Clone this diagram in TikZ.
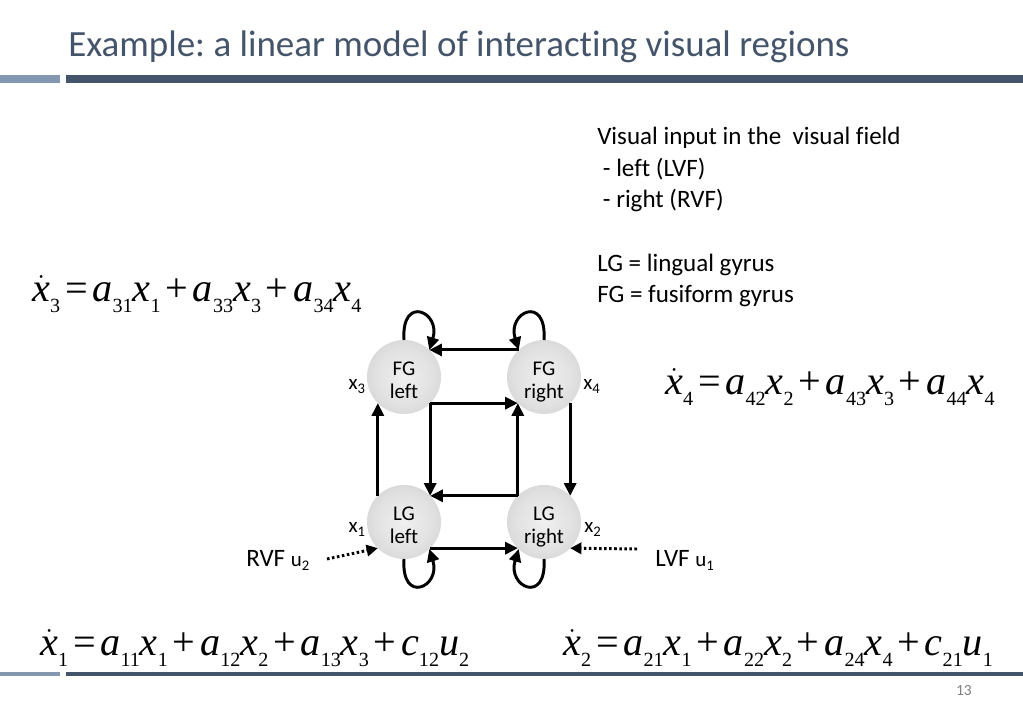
\documentclass[tikz,border=0pt]{standalone}
\usepackage{fontspec}
\setmainfont{Carlito}[Ligatures=NoCommon]
\newfontfamily\eqfont{Liberation Serif}
\usetikzlibrary{arrows.meta}
\frenchspacing

\definecolor{titleblue}{RGB}{68,84,106}
\definecolor{barlight}{RGB}{132,151,176}
\definecolor{pagegray}{RGB}{127,127,127}
\pgfdeclareradialshading{ball}{\pgfpoint{0bp}{0bp}}{color(0bp)=(black!6); color(20bp)=(black!12); color(40bp)=(black!22); color(50bp)=(black!30)}

% variable with subscript, and its time derivative
\newcommand{\ev}[2]{\textit{#1}\raisebox{-0.26em}{\fontsize{14.3}{15}\selectfont #2}}
\newcommand{\evd}[2]{$\dot{\hbox{\itshape #1}}$\raisebox{-0.26em}{\fontsize{14.3}{15}\selectfont #2}}
\newcommand{\op}[1]{\hspace{0.12em}#1\hspace{0.12em}}

\tikzset{
  region/.style={circle, shading=ball, minimum size=1.85cm, inner sep=0pt, outer sep=0pt,
    align=center, font=\fontsize{14.9}{16.4}\selectfont, text height=30pt, text depth=0pt},
  conn/.style={draw, line width=2.1pt, -{Triangle[length=9pt,width=8.5pt]}},
  input/.style={draw, line width=2.1pt, dash pattern=on 1.8pt off 1.8pt,
    -{Triangle[length=8pt,width=8pt]}},
  xlab/.style={inner sep=0pt, font=\fontsize{14.9}{16}\selectfont},
  eq/.style={anchor=base west, inner sep=0pt, font=\eqfont\fontsize{28.6}{32}\selectfont},
}

\begin{document}
\begin{tikzpicture}[x=0.025cm, y=0.025cm]
\useasboundingbox (0,0) rectangle (1023,708);

% title and bars
\node[anchor=base west, inner sep=0pt, text=titleblue, font=\fontsize{26.3}{30}\selectfont] (title) at (68,651) {Example: a linear model of interacting visual regions};
\fill[barlight] (0,625) rectangle (60,633);
\fill[titleblue] (66,625) rectangle (1023,633);
\fill[barlight] (0,32) rectangle (60,36);
\fill[titleblue] (66,32) rectangle (1023,36);
\node[anchor=base east, inner sep=0pt, text=pagegray, font=\fontsize{11}{12}\selectfont] (page) at (972,12) {13};

% legend
\node[anchor=north west, align=left, inner sep=0pt, font=\fontsize{17.8}{22.5}\selectfont] (info) at (597,581)
  {Visual input in the~ visual field\\\ - left (LVF)\\\ - right (RVF)\\[22.5pt]LG = lingual gyrus\\FG = fusiform gyrus};

% regions
\node[region] (x3) at (404,331) {FG\\left};
\node[region] (x4) at (544,331) {FG\\right};
\node[region] (x1) at (404,186) {LG\\left};
\node[region] (x2) at (544,186) {LG\\right};

\node[xlab, anchor=base east] (l3) at (366,318) {x\textsubscript{3}};
\node[xlab, anchor=base west] (l4) at (583,318) {x\textsubscript{4}};
\node[xlab, anchor=base east] (l1) at (366,175) {x\textsubscript{1}};
\node[xlab, anchor=base west] (l2) at (584,175) {x\textsubscript{2}};

\path[conn] (x4.133) -- (x3.47);
\path[conn] (x3.-45) -- (x4.-135);
\path[conn] (x3.-45) -- (x1.45);
\path[conn] (x1.135) -- (x3.-135);
\path[conn] (x2.135) -- (x1.45);
\path[conn] (x2.135) -- (x4.-135);
\path[conn] (x1.-45) -- (x2.-135);
\path[conn] (x4.-45) -- (x2.45);

% self connections
\path[conn] (x3.90) .. controls +(-3,46) and +(12,38) .. (x3.47);
\path[conn] (x4.90) .. controls +(3,46) and +(-12,38) .. (x4.133);
\path[conn] (x1.-90) .. controls +(-3,-46) and +(12,-38) .. (x1.-47);
\path[conn] (x2.-90) .. controls +(3,-46) and +(-12,-38) .. (x2.-133);

% inputs
\node[anchor=base west, inner sep=0pt, font=\fontsize{17.8}{20}\selectfont] (rvf) at (246,141) {RVF {\fontsize{14.9}{16}\selectfont u\textsubscript{2}}};
\node[anchor=base west, inner sep=0pt, font=\fontsize{17.8}{20}\selectfont] (lvf) at (655,141) {LVF {\fontsize{14.9}{16}\selectfont u\textsubscript{1}}};
\coordinate (u2) at (327,149);
\coordinate (u1) at (637,159);
\path[input] (u2) -- (x1.-135);
\path[input] (u1) -- (x2.-45);

% equations
\node[eq] (eq3) at (32,406) {\evd{x}{3}\op{=}\ev{a}{31}\ev{x}{1}\op{+}\ev{a}{33}\ev{x}{3}\op{+}\ev{a}{34}\ev{x}{4}};
\node[eq] (eq4) at (665,313) {\evd{x}{4}\op{=}\ev{a}{42}\ev{x}{2}\op{+}\ev{a}{43}\ev{x}{3}\op{+}\ev{a}{44}\ev{x}{4}};
\node[eq] (eq1) at (40,52) {\evd{x}{1}\op{=}\ev{a}{11}\ev{x}{1}\op{+}\ev{a}{12}\ev{x}{2}\op{+}\ev{a}{13}\ev{x}{3}\op{+}\ev{c}{12}\ev{u}{2}};
\node[eq] (eq2) at (563,52) {\evd{x}{2}\op{=}\ev{a}{21}\ev{x}{1}\op{+}\ev{a}{22}\ev{x}{2}\op{+}\ev{a}{24}\ev{x}{4}\op{+}\ev{c}{21}\ev{u}{1}};
\end{tikzpicture}
\end{document}
